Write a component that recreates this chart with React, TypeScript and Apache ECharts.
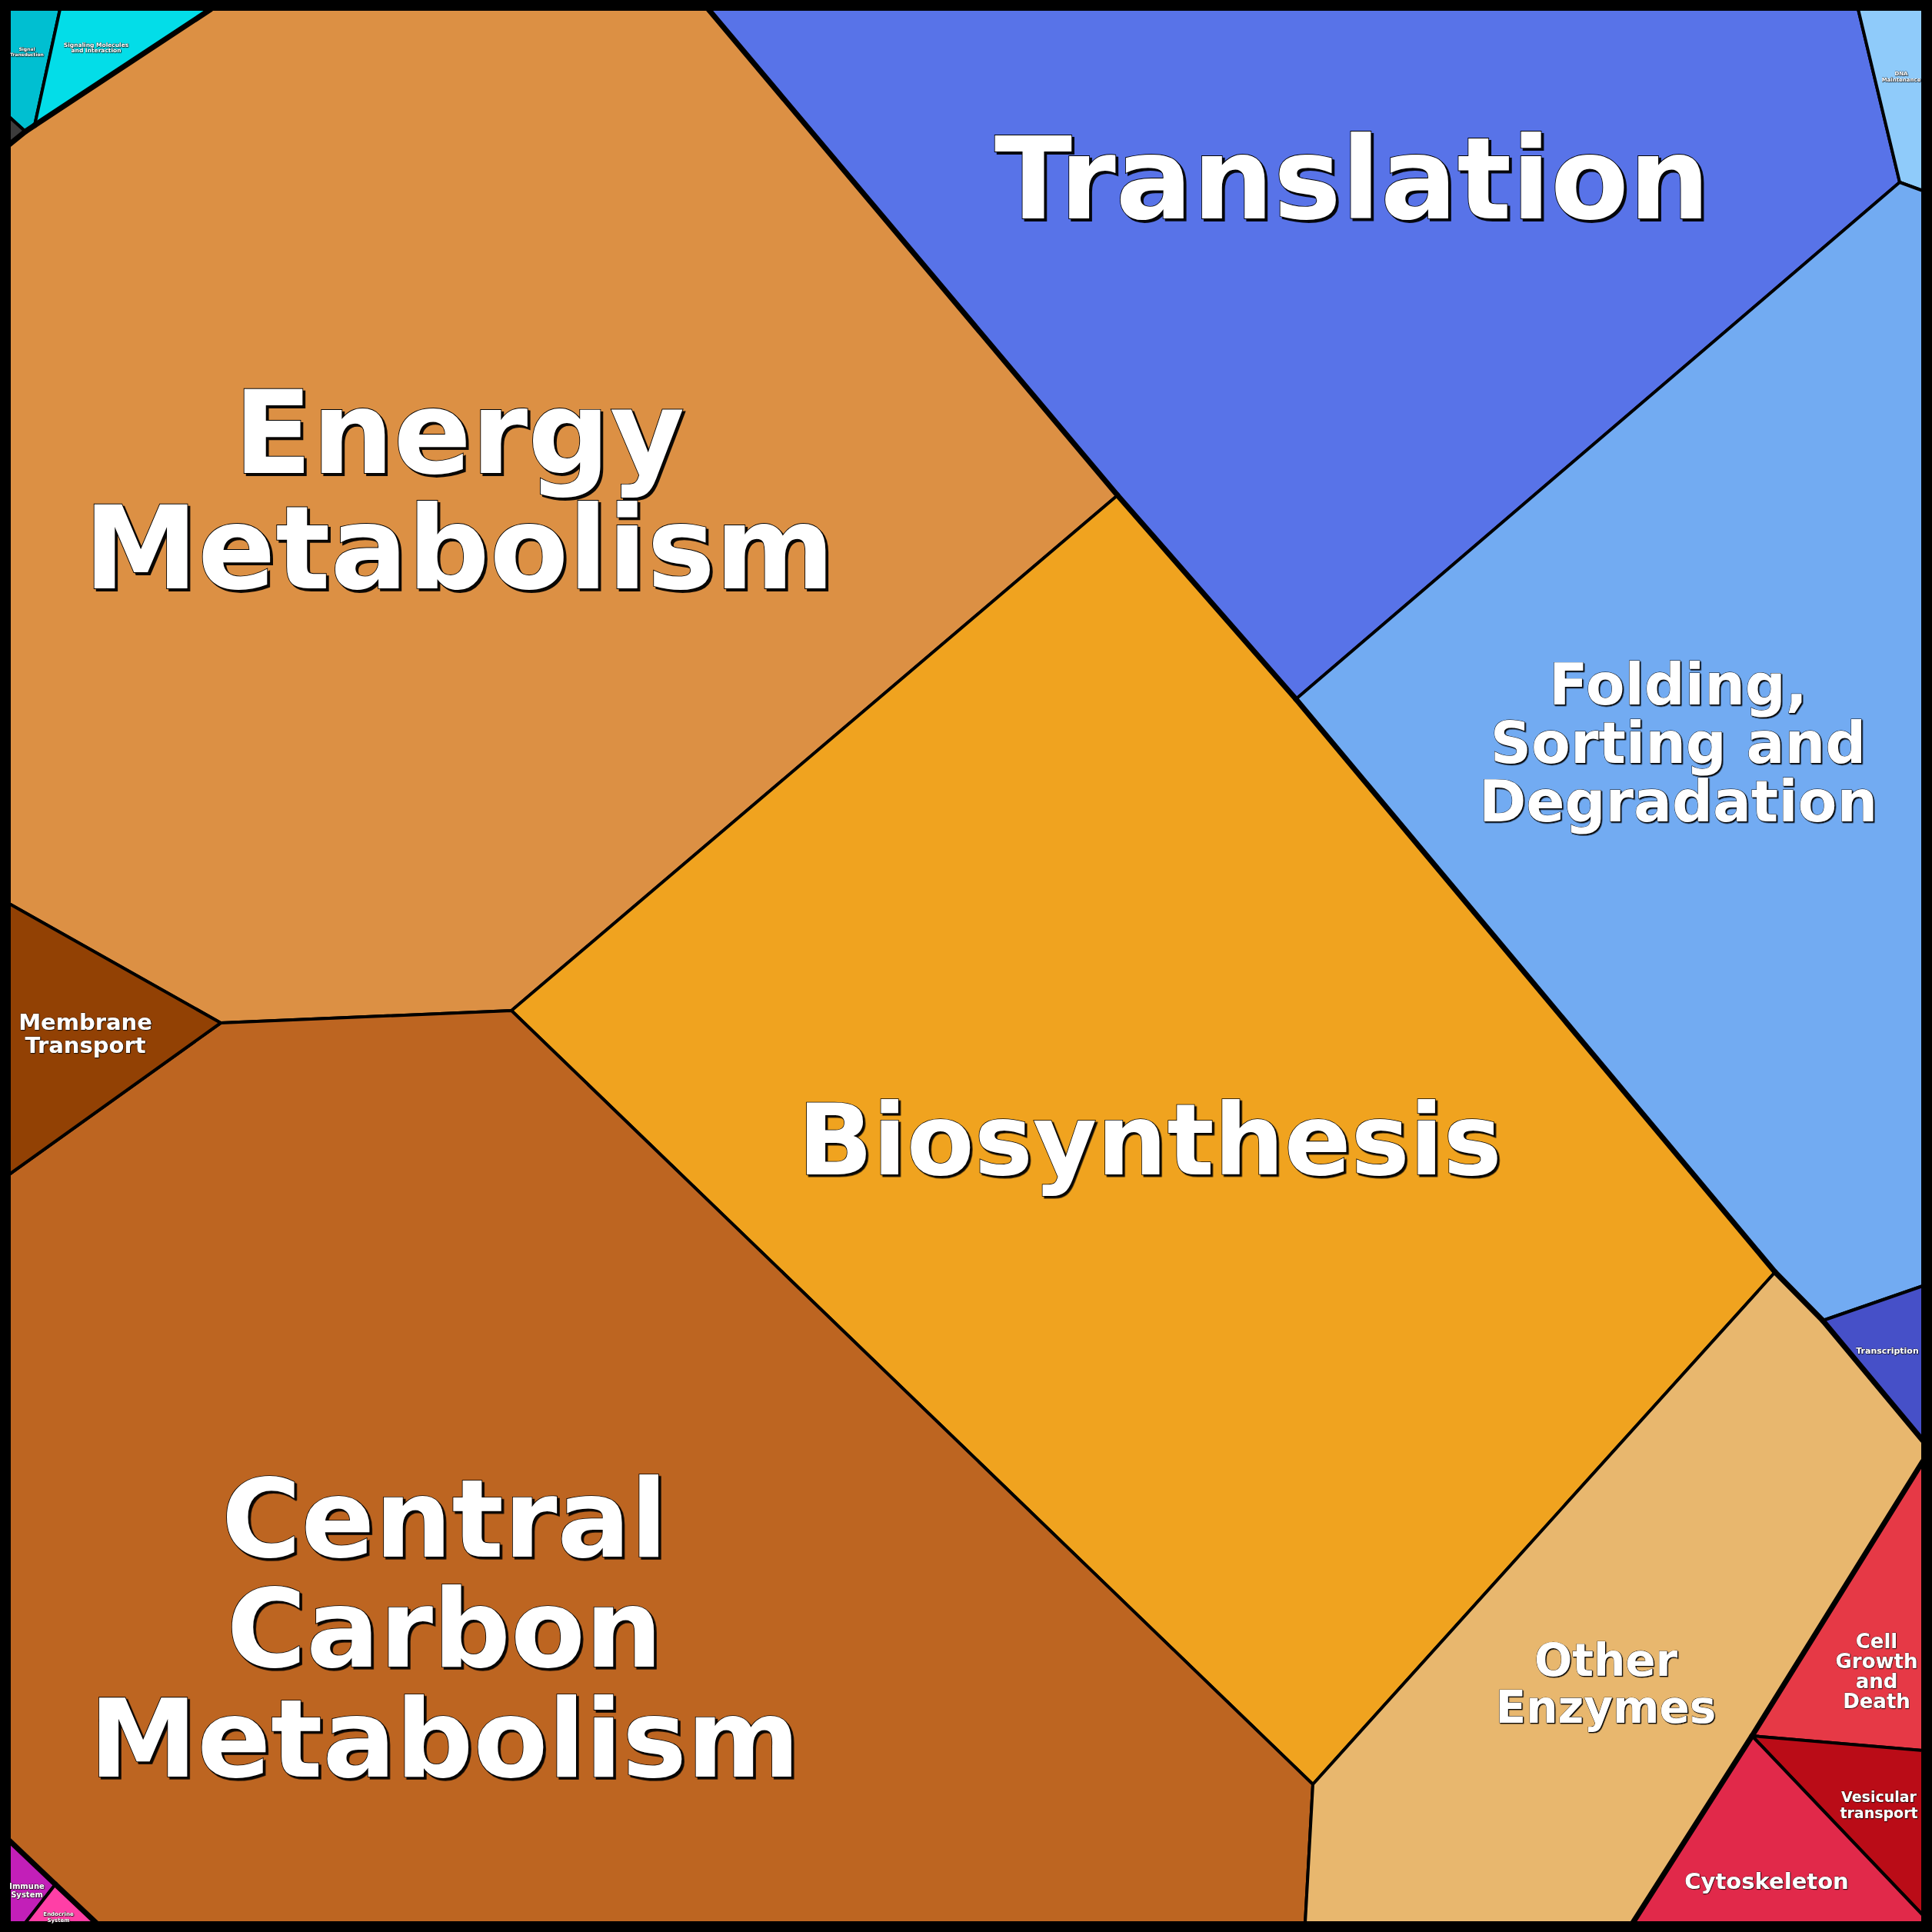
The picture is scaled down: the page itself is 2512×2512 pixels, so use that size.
import React, { useEffect, useRef } from "react";
import * as echarts from "echarts";

// ---- data ----
const cellNames = [
  "Translation",
  "DNA Maintenance",
  "Folding, Sorting and Degradation",
  "Transcription",
  "Energy Metabolism",
  "Biosynthesis",
  "Central Carbon Metabolism",
  "Membrane Transport",
  "Other Enzymes",
  "Cell Growth and Death",
  "Vesicular transport",
  "Cytoskeleton",
  "Signal Transduction",
  "Signaling Molecules and Interaction",
  "",
  "Immune System",
  "Endocrine System",
];

const cellLabels = [
  "Translation",
  "DNA\nMaintenance",
  "Folding,\nSorting and\nDegradation",
  "Transcription",
  "Energy\nMetabolism",
  "Biosynthesis",
  "Central\nCarbon\nMetabolism",
  "Membrane\nTransport",
  "Other\nEnzymes",
  "Cell\nGrowth\nand\nDeath",
  "Vesicular\ntransport",
  "Cytoskeleton",
  "Signal\nTransduction",
  "Signaling Molecules\nand Interaction",
  "",
  "Immune\nSystem",
  "Endocrine\nSystem",
];

const cellGroups = [
  "Genetic Information Processing",
  "Genetic Information Processing",
  "Genetic Information Processing",
  "Genetic Information Processing",
  "Metabolism",
  "Metabolism",
  "Metabolism",
  "Metabolism",
  "Metabolism",
  "Cellular Processes",
  "Cellular Processes",
  "Cellular Processes",
  "Environmental Information Processing",
  "Environmental Information Processing",
  "Environmental Information Processing",
  "Organismal Systems",
  "Organismal Systems",
];

const cellColors = [
  "#5873e8", "#8fcbfa", "#72abf2", "#4650c8",
  "#dc9044", "#f0a31f", "#bd6521", "#924104", "#e8b76e",
  "#e63946", "#ba0c17", "#e1294a",
  "#00bfd1", "#03dde8", "#3c3c3c",
  "#c21fb8", "#ff3fa6",
];

// Voronoi junctions in map units (domain 0..2512)
const junctions: Record<string, [number, number]> = {
  tl: [12, 12], a: [78, 12], b: [274, 12], c: [921, 12], d: [2416, 12], tr: [2500, 12],
  e: [2500, 248], f: [2470, 237], g: [1685, 909], h: [1453, 644],
  i: [2308, 1654], j: [2370, 1717], k: [2500, 1672], l: [2500, 1873], m: [2500, 1900],
  n: [2278, 2257], o: [2500, 2276], p: [2500, 2490], br: [2500, 2500],
  q: [2123, 2500], r: [1697, 2500], s: [1707, 2320], t: [665, 1314], u: [287, 1330],
  v: [12, 1175], w: [12, 1527], x: [12, 2393], y: [125, 2500], z: [72, 2450],
  aa: [33, 2500], bl: [12, 2500], ab: [12, 188], ac: [12, 152], ad: [33, 171], ae: [45, 163],
};

const cellOutlines: string[][] = [
  ["c", "d", "f", "g", "h"],
  ["d", "tr", "e", "f"],
  ["f", "e", "k", "j", "i", "g"],
  ["j", "k", "l"],
  ["b", "c", "h", "t", "u", "v", "ab", "ad", "ae"],
  ["h", "g", "i", "s", "t"],
  ["u", "t", "s", "r", "y", "z", "x", "w"],
  ["v", "u", "w"],
  ["s", "i", "j", "l", "m", "n", "q", "r"],
  ["m", "o", "n"],
  ["n", "o", "p"],
  ["q", "n", "p", "br"],
  ["tl", "a", "ae", "ad", "ac"],
  ["a", "b", "ae"],
  ["ac", "ad", "ab"],
  ["x", "z", "aa", "bl"],
  ["z", "y", "aa"],
];

// ---- label layout (anchor in map units, font size, line height) ----
const labelLayout = [
  { at: [1758, 233], size: 148, lh: 150 },
  { at: [2472, 100], size: 7, lh: 8 },
  { at: [2182, 966], size: 74, lh: 76 },
  { at: [2454, 1756], size: 11, lh: 12 },
  { at: [597, 638], size: 149, lh: 150 },
  { at: [1495, 1482], size: 128, lh: 130 },
  { at: [578, 2118], size: 141, lh: 143 },
  { at: [111, 1344], size: 29, lh: 30 },
  { at: [2088, 2189], size: 58, lh: 61 },
  { at: [2440, 2173], size: 26, lh: 26 },
  { at: [2443, 2346], size: 19, lh: 21 },
  { at: [2297, 2446], size: 29, lh: 30 },
  { at: [35, 67], size: 6, lh: 6.5 },
  { at: [125, 62], size: 7.5, lh: 7.5 },
  { at: [20, 168], size: 2, lh: 2 },
  { at: [35, 2458], size: 10, lh: 10.5 },
  { at: [76, 2493], size: 7, lh: 8 },
];

// thick edges: shared between cells of different groups
function computeThickEdges() {
  const map = new Map<string, { a: string; b: string; cells: number[] }>();
  cellOutlines.forEach((pts, ci) => {
    pts.forEach((p, k) => {
      const q = pts[(k + 1) % pts.length];
      const key = p < q ? p + "|" + q : q + "|" + p;
      if (!map.has(key)) map.set(key, { a: p, b: q, cells: [] });
      map.get(key)!.cells.push(ci);
    });
  });
  const out: number[][] = [];
  map.forEach((e) => {
    if (e.cells.length === 2 && cellGroups[e.cells[0]] !== cellGroups[e.cells[1]]) {
      out.push([...junctions[e.a], ...junctions[e.b]]);
    }
  });
  return out;
}

export default function App() {
  const ref = useRef<HTMLDivElement>(null);
  useEffect(() => {
    const chart = echarts.init(ref.current!, null, { renderer: "svg" });
    const thick = computeThickEdges();
    const font = "DejaVu Sans";
    chart.setOption({
      animation: false,
      backgroundColor: "#000",
      grid: { left: 0, right: 0, top: 0, bottom: 0 },
      xAxis: { type: "value", min: 0, max: 2512, show: false },
      yAxis: { type: "value", min: 0, max: 2512, inverse: true, show: false },
      tooltip: { show: false },
      series: [
        {
          type: "custom",
          name: "cells",
          clip: false,
          silent: true,
          data: cellNames.map((nm, idx) => ({ name: nm, value: [idx] })),
          renderItem: (params: any, api: any) => {
            const idx = params.dataIndex;
            const pts = cellOutlines[idx].map((k) => api.coord(junctions[k]));
            return {
              type: "polygon",
              shape: { points: pts },
              style: { fill: cellColors[idx], stroke: "#000", lineWidth: 4, lineJoin: "round" },
            };
          },
        },
        {
          type: "custom",
          name: "groupEdges",
          clip: false,
          silent: true,
          data: thick,
          renderItem: (params: any, api: any) => {
            const e = thick[params.dataIndex];
            const p1 = api.coord([e[0], e[1]]);
            const p2 = api.coord([e[2], e[3]]);
            return {
              type: "line",
              shape: { x1: p1[0], y1: p1[1], x2: p2[0], y2: p2[1] },
              style: { stroke: "#000", lineWidth: 7, lineCap: "round" },
            };
          },
        },
        {
          type: "custom",
          name: "labels",
          clip: false,
          silent: true,
          data: cellLabels.map((t, idx) => [idx]),
          renderItem: (params: any, api: any) => {
            const idx = params.dataIndex;
            const txt = cellLabels[idx];
            if (!txt) return { type: "group", children: [] };
            const L = labelLayout[idx];
            const pt = api.coord(L.at);
            const sh = Math.max(0.5, L.size * 0.02);
            return {
              type: "text",
              x: pt[0],
              y: pt[1],
              style: {
                text: txt,
                fill: "#fff",
                fontSize: L.size,
                fontWeight: "bold",
                fontFamily: font,
                lineHeight: L.lh,
                align: "center",
                verticalAlign: "middle",
                stroke: "#000",
                lineWidth: Math.max(0.4, L.size * 0.012),
                textShadowColor: "rgba(0,0,0,0.95)",
                textShadowOffsetX: sh,
                textShadowOffsetY: sh,
                textShadowBlur: Math.max(0.3, L.size * 0.006),
              },
            };
          },
        },
      ],
    });
    return () => chart.dispose();
  }, []);
  return (
    <div
      ref={ref}
      style={{ position: "absolute", left: 0, top: 0, width: 2512, height: 2512 }}
    />
  );
}
